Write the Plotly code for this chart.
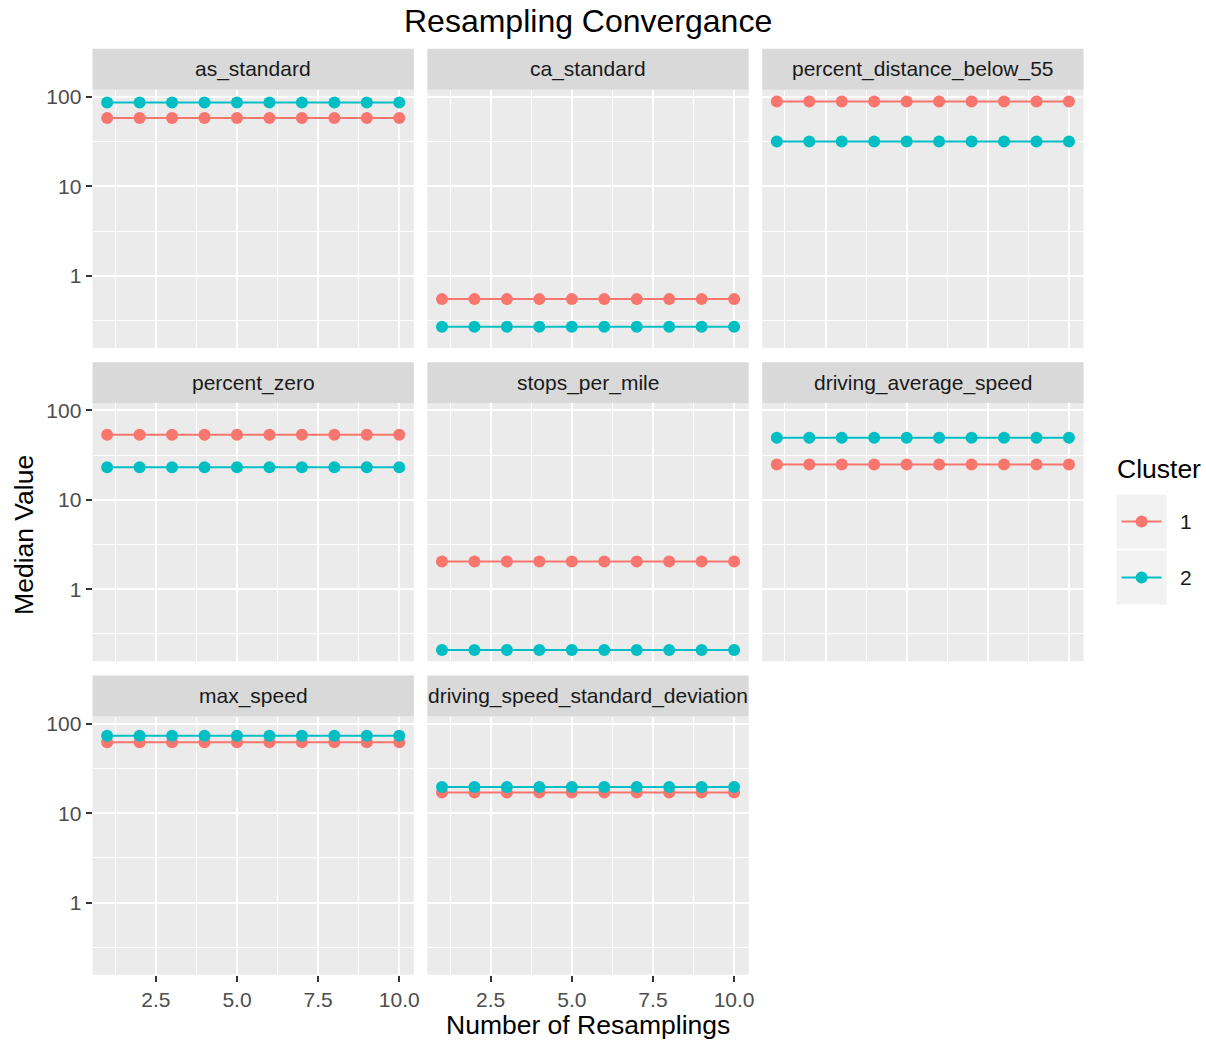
import math
import plotly.graph_objects as go

# ---------------- data ----------------
resamplings = [1, 2, 3, 4, 5, 6, 7, 8, 9, 10]
variables = ["as_standard", "ca_standard", "percent_distance_below_55",
             "percent_zero", "stops_per_mile", "driving_average_speed",
             "max_speed", "driving_speed_standard_deviation"]
clusters = ["1", "2"]

as_standard_c1 = [58.2, 58.2, 58.2, 58.2, 58.2, 58.2, 58.2, 58.2, 58.2, 58.2]
as_standard_c2 = [87.0, 87.0, 87.0, 87.0, 87.0, 87.0, 87.0, 87.0, 87.0, 87.0]
ca_standard_c1 = [0.55, 0.55, 0.55, 0.55, 0.55, 0.55, 0.55, 0.55, 0.55, 0.55]
ca_standard_c2 = [0.27, 0.27, 0.27, 0.27, 0.27, 0.27, 0.27, 0.27, 0.27, 0.27]
pct_dist_below_55_c1 = [89.0, 89.0, 89.0, 89.0, 89.0, 89.0, 89.0, 89.0, 89.0, 89.0]
pct_dist_below_55_c2 = [31.9, 31.9, 31.9, 31.9, 31.9, 31.9, 31.9, 31.9, 31.9, 31.9]
percent_zero_c1 = [53.5, 53.5, 53.5, 53.5, 53.5, 53.5, 53.5, 53.5, 53.5, 53.5]
percent_zero_c2 = [23.2, 23.2, 23.2, 23.2, 23.2, 23.2, 23.2, 23.2, 23.2, 23.2]
stops_per_mile_c1 = [2.04, 2.04, 2.04, 2.04, 2.04, 2.04, 2.04, 2.04, 2.04, 2.04]
stops_per_mile_c2 = [0.21, 0.21, 0.21, 0.21, 0.21, 0.21, 0.21, 0.21, 0.21, 0.21]
driving_avg_speed_c1 = [24.9, 24.9, 24.9, 24.9, 24.9, 24.9, 24.9, 24.9, 24.9, 24.9]
driving_avg_speed_c2 = [49.5, 49.5, 49.5, 49.5, 49.5, 49.5, 49.5, 49.5, 49.5, 49.5]
max_speed_c1 = [62.4, 62.4, 62.4, 62.4, 62.4, 62.4, 62.4, 62.4, 62.4, 62.4]
max_speed_c2 = [73.4, 73.4, 73.4, 73.4, 73.4, 73.4, 73.4, 73.4, 73.4, 73.4]
driving_speed_sd_c1 = [17.1, 17.1, 17.1, 17.1, 17.1, 17.1, 17.1, 17.1, 17.1, 17.1]
driving_speed_sd_c2 = [19.6, 19.6, 19.6, 19.6, 19.6, 19.6, 19.6, 19.6, 19.6, 19.6]

series_c1 = [as_standard_c1, ca_standard_c1, pct_dist_below_55_c1, percent_zero_c1,
             stops_per_mile_c1, driving_avg_speed_c1, max_speed_c1, driving_speed_sd_c1]
series_c2 = [as_standard_c2, ca_standard_c2, pct_dist_below_55_c2, percent_zero_c2,
             stops_per_mile_c2, driving_avg_speed_c2, max_speed_c2, driving_speed_sd_c2]

y_tick_vals = [1, 10, 100]
y_tick_text = ["1", "10", "100"]
x_tick_vals = [2.5, 5.0, 7.5, 10.0]
x_tick_text = ["2.5", "5.0", "7.5", "10.0"]

# ---------------- style / layout ----------------
W, H = 1206, 1042
FONT = "Liberation Sans, Arial, Helvetica, sans-serif"
COL1, COL2 = "#F8766D", "#00BFC4"
PANEL_BG = "#EBEBEB"
STRIP_BG = "#D9D9D9"

# small calibration of page pixels -> paper fraction
SX, OX = 0.994, 0.56
SY, OY = 0.9959, 4.7

def fx(p):
    return ((p - OX) / SX) / W

def fy(p):
    return 1 - ((p - OY) / SY) / H

col_left = [93.0, 427.5, 762.0]
panel_w = 321.0
strip_top = [49.5, 362.8, 676.1]
strip_h = 41.0
panel_h = 258.0

y_range = [-0.805, 2.081]
x_range = [0.55, 10.45]

fig = go.Figure()
layout = dict(
    width=W, height=H,
    margin=dict(l=0, r=0, t=0, b=0),
    paper_bgcolor="white",
    plot_bgcolor=PANEL_BG,
    showlegend=False,
    font=dict(family=FONT, size=21, color="#4D4D4D"),
)
shapes = []
annotations = []

for i, var in enumerate(variables):
    r, c = divmod(i, 3)
    k = i + 1
    xa = "x" if k == 1 else f"x{k}"
    ya = "y" if k == 1 else f"y{k}"
    x0p = col_left[c]
    x1p = x0p + panel_w
    ptop = strip_top[r] + strip_h
    pbot = ptop + panel_h

    fig.add_trace(go.Scatter(
        x=resamplings, y=series_c1[i], xaxis=xa, yaxis=ya, mode="lines+markers",
        name=clusters[0], line=dict(color=COL1, width=2),
        marker=dict(color=COL1, size=12), cliponaxis=False))
    fig.add_trace(go.Scatter(
        x=resamplings, y=series_c2[i], xaxis=xa, yaxis=ya, mode="lines+markers",
        name=clusters[1], line=dict(color=COL2, width=2),
        marker=dict(color=COL2, size=12), cliponaxis=False))

    show_x = (r == 2)
    show_y = (c == 0)
    layout["xaxis" if k == 1 else f"xaxis{k}"] = dict(
        domain=[fx(x0p), fx(x1p)], anchor=ya, range=x_range,
        tickmode="array", tickvals=x_tick_vals, ticktext=x_tick_text,
        showticklabels=show_x, ticks="outside" if show_x else "",
        ticklen=6, tickwidth=2, tickcolor="#333333",
        tickfont=dict(family=FONT, size=21, color="#4D4D4D"),
        showgrid=True, gridcolor="white", gridwidth=2.2,
        minor=dict(tickmode="array", tickvals=[1.25, 3.75, 6.25, 8.75],
                   showgrid=True, gridcolor="white", gridwidth=1.1, ticks=""),
        zeroline=False, showline=False, fixedrange=True,
    )
    layout["yaxis" if k == 1 else f"yaxis{k}"] = dict(
        domain=[fy(pbot), fy(ptop)], anchor=xa, type="log", range=y_range,
        tickmode="array", tickvals=y_tick_vals, ticktext=y_tick_text,
        showticklabels=show_y, ticks="outside" if show_y else "",
        ticklen=6, tickwidth=2, tickcolor="#333333",
        tickfont=dict(family=FONT, size=21, color="#4D4D4D"),
        showgrid=True, gridcolor="white", gridwidth=2.2,
        minor=dict(tickmode="array",
                   tickvals=[10 ** -0.5, 10 ** 0.5, 10 ** 1.5],
                   showgrid=True, gridcolor="white", gridwidth=1.1, ticks=""),
        zeroline=False, showline=False, fixedrange=True,
    )

    # strip
    shapes.append(dict(type="rect", xref="paper", yref="paper",
                       x0=fx(x0p), x1=fx(x1p), y0=fy(strip_top[r] + strip_h), y1=fy(strip_top[r]),
                       fillcolor=STRIP_BG, line=dict(width=0), layer="below"))
    annotations.append(dict(text=var, xref="paper", yref="paper",
                            x=fx((x0p + x1p) / 2), y=fy(strip_top[r] + strip_h / 2),
                            xanchor="center", yanchor="middle", showarrow=False,
                            font=dict(family=FONT, size=21, color="#1A1A1A")))

# title & axis titles
annotations.append(dict(text="Resampling Convergance", xref="paper", yref="paper",
                        x=fx(588), y=fy(22), xanchor="center", yanchor="middle",
                        showarrow=False, font=dict(family=FONT, size=32, color="black")))
annotations.append(dict(text="Number of Resamplings", xref="paper", yref="paper",
                        x=fx(588), y=fy(1025), xanchor="center", yanchor="middle",
                        showarrow=False, font=dict(family=FONT, size=26.5, color="black")))
annotations.append(dict(text="Median Value", xref="paper", yref="paper",
                        x=fx(25), y=fy(535), xanchor="center", yanchor="middle",
                        textangle=-90, showarrow=False,
                        font=dict(family=FONT, size=26.5, color="black")))

# manual legend (ggplot style)
annotations.append(dict(text="Cluster", xref="paper", yref="paper",
                        x=fx(1114), y=fy(470), xanchor="left", yanchor="middle",
                        showarrow=False, font=dict(family=FONT, size=26.5, color="black")))
key_centers = [522, 578]
key_colors = [COL1, COL2]
for cy, col, lab in zip(key_centers, key_colors, clusters):
    shapes.append(dict(type="rect", xref="paper", yref="paper",
                       x0=fx(1116), x1=fx(1166), y0=fy(cy + 27), y1=fy(cy - 27),
                       fillcolor="#F2F2F2", line=dict(width=0)))
    shapes.append(dict(type="line", xref="paper", yref="paper",
                       x0=fx(1121), x1=fx(1161), y0=fy(cy), y1=fy(cy),
                       line=dict(color=col, width=2)))
    shapes.append(dict(type="circle", xref="paper", yref="paper",
                       x0=fx(1141 - 6), x1=fx(1141 + 6), y0=fy(cy + 6), y1=fy(cy - 6),
                       fillcolor=col, line=dict(width=0)))
    annotations.append(dict(text=lab, xref="paper", yref="paper",
                            x=fx(1177), y=fy(cy), xanchor="left", yanchor="middle",
                            showarrow=False, font=dict(family=FONT, size=21, color="#1A1A1A")))

layout["shapes"] = shapes
layout["annotations"] = annotations
fig.update_layout(**layout)
fig.write_html("out.html", config={"displayModeBar": False})
